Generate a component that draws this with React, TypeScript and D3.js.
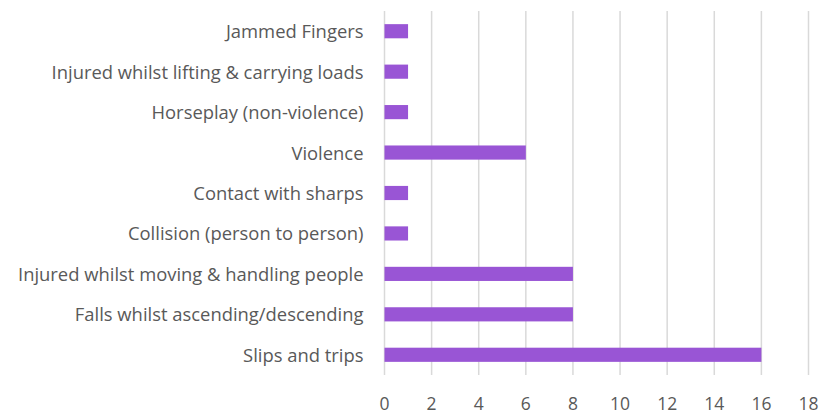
import React from "react";
import * as d3 from "d3";

const categories = [
  "Jammed Fingers",
  "Injured whilst lifting & carrying loads",
  "Horseplay (non-violence)",
  "Violence",
  "Contact with sharps",
  "Collision (person to person)",
  "Injured whilst moving & handling people",
  "Falls whilst ascending/descending",
  "Slips and trips",
];
const values = [1, 1, 1, 6, 1, 1, 8, 8, 16];
const ticks = [0, 2, 4, 6, 8, 10, 12, 14, 16, 18];

export default function App() {
  const W = 823, H = 412;
  const left = 384.5, right = 808.5, top = 11, bottom = 375;
  const x = d3.scaleLinear().domain([0, 18]).range([left, right]);
  const y = d3.scaleBand<string>().domain(categories).range([top, bottom]).paddingInner(0.65).paddingOuter(0.325);
  const font = "'Open Sans', sans-serif";
  return (
    <svg width={W} height={H} style={{ position: "absolute", left: 0, top: 0 }}>
      <rect width={W} height={H} fill="#fff" />
      {ticks.map((t) => (
        <line key={"g" + t} x1={x(t)} x2={x(t)} y1={top} y2={bottom} stroke="#d9d9d9" strokeWidth={1.5} />
      ))}
      {categories.map((c, i) => (
        <rect key={c} x={x(0)} y={y(c)!} width={x(values[i]) - x(0)} height={y.bandwidth()} fill="#9955d5" />
      ))}
      {categories.map((c) => (
        <text key={"l" + c} x={363.5} y={y(c)! + y.bandwidth() / 2 + 7} textAnchor="end" fontFamily={font} fontSize={18.4} fill="#595959">
          {c}
        </text>
      ))}
      {ticks.map((t) => (
        <text key={"t" + t} x={x(t)} y={409.5} textAnchor="middle" fontFamily={font} fontSize={17.5} fill="#595959">
          {t}
        </text>
      ))}
    </svg>
  );
}
